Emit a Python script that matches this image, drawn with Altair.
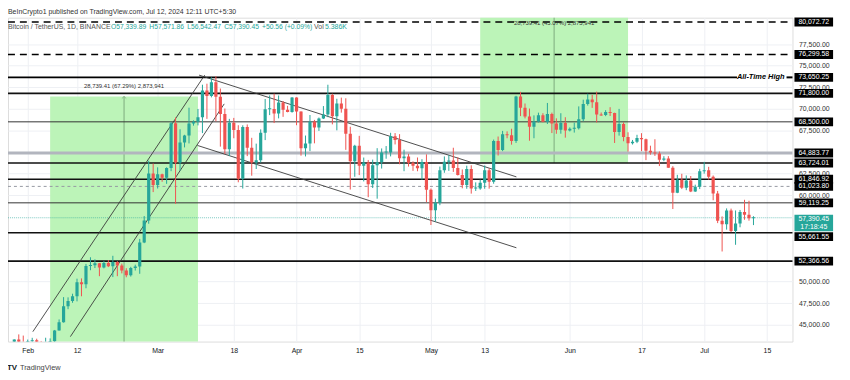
import altair as alt
import pandas as pd

# ---------------- data ----------------
BASE_DATE = "2024-02-01"
FIRST_CANDLE = "2024-01-29"

OPEN = [
    42031, 43300, 42946,
    42582, 43082, 43200, 43011, 42583, 42658, 43084, 44341, 45288, 47132, 47751, 48299, 49917, 49699, 51795,
    51880, 52124, 51642, 52137, 51774, 52258, 51849, 51283, 50731, 51571, 51733, 54522, 57085, 62504,
    61198, 62440, 62029, 63168, 68330, 63802, 66106, 66925, 68300, 68498, 69020, 72123, 71482, 73083, 71397,
    69403, 65316, 68390, 67548, 61912, 67913, 65491, 63778, 64062, 67234, 69958, 69987, 69455, 70744, 69892, 69645,
    71333, 69702, 65446, 65980, 68508, 67837, 68896, 69360, 71620, 69146, 70631, 70006, 67117, 63924, 65739,
    63419, 63793, 61277, 63470, 63818, 64941, 64960, 66837, 66408, 64276, 64481, 63755, 63419, 63113, 63841,
    60636, 58254, 59123, 62889, 63891, 64031, 63162, 62334, 61187, 63049, 60792, 60793, 61448, 62901, 61552,
    66267, 65231, 67051, 66940, 66278, 71446, 70136, 69122, 67929, 68526, 69265, 68518, 69394, 68296, 67578, 68364,
    67491, 67706, 67751, 68804, 70567, 71082, 70757, 69342, 69305, 69648, 69512, 67321, 68243, 66756, 66012,
    66191, 66640, 66490, 65140, 64960, 64828, 64096, 64252, 63180, 60277, 61804, 60864, 61706, 60427, 60986,
    62772, 62899, 62135, 60208, 57050, 56628, 58231, 55857, 56714, 58051, 57725, 57339.89,
]
HIGH = [
    43305, 43882, 43745,
    43285, 43488, 43380, 43119, 43494, 43419, 44396, 45614, 48200, 48170, 48592, 50334, 50368, 52043, 52816,
    52572, 52160, 52369, 52488, 52985, 52371, 52080, 51548, 51706, 51958, 54938, 57588, 64000, 63676,
    63230, 62500, 63230, 68500, 69000, 67637, 67000, 70136, 68670, 69990, 72800, 72916, 73650, 73777, 72358,
    70043, 68845, 68957, 68106, 68100, 68199, 66650, 65976, 67624, 71150, 71561, 71769, 71552, 70913, 70355, 71366,
    71342, 69708, 66914, 69291, 68725, 69000, 70327, 72797, 71758, 71172, 71305, 71227, 67932, 65840, 66878,
    64365, 64084, 64125, 65450, 65419, 65695, 67233, 67200, 67075, 65275, 64789, 63923, 64370, 64174, 64735,
    60780, 59603, 63321, 64494, 64646, 65500, 64390, 62984, 63420, 63469, 61490, 61818, 63450, 63119, 66444,
    66800, 67451, 67400, 67700, 71515, 71979, 70623, 70041, 69250, 69562, 69500, 70687, 69566, 68906, 69500, 69036,
    67857, 68409, 70288, 71063, 71758, 71625, 71997, 69582, 69854, 70195, 69563, 69999, 68449, 67294, 66402,
    66998, 67188, 66556, 65738, 66482, 65067, 64521, 64524, 63369, 62362, 62480, 62293, 62227, 61224, 63058,
    63861, 63288, 62285, 60499, 57546, 58475, 58449, 58236, 58296, 59470, 59359, 57571.86,
]
LOW = [
    41804, 42683, 42276,
    41884, 42546, 42880, 42222, 42500, 42574, 42788, 44331, 45242, 46800, 47540, 47710, 48300, 49225, 51314,
    51566, 50625, 51530, 51677, 50521, 50625, 50952, 50500, 50582, 51280, 50902, 54450, 56700, 60364,
    60777, 61559, 61320, 62787, 59005, 62848, 65540, 66001, 68058, 68089, 67194, 68845, 71334, 68555, 65630,
    64780, 64545, 66600, 61500, 60775, 64529, 62260, 63038, 63790, 66385, 69280, 68360, 68903, 69077, 69602, 69562,
    68110, 64586, 64493, 65113, 66011, 67447, 68824, 69043, 68210, 67518, 69567, 65254, 60660, 62134, 62333,
    61600, 59768, 60833, 59600, 63090, 64227, 64500, 65884, 63589, 62783, 63322, 62824, 62781, 61795, 59191,
    56552, 56937, 58848, 62599, 62822, 62700, 62285, 60800, 60750, 60187, 60492, 60632, 60750, 60760, 61330,
    64600, 65106, 66600, 65857, 66060, 69162, 68900, 66312, 66600, 68426, 68456, 68250, 67200, 67117, 67128, 66670,
    67386, 67257, 67612, 68566, 70383, 70119, 68420, 69208, 69160, 69172, 66051, 66902, 66251, 65056, 65871,
    66034, 65104, 64066, 64693, 64559, 63379, 63943, 63179, 58402, 60239, 60712, 60585, 60361, 60383, 60712,
    62497, 61806, 59419, 56771, 53485, 56018, 55724, 54260, 56289, 57157, 57052, 56542.47,
]
CLOSE = [
    43300, 42946, 42582,
    43082, 43200, 43011, 42583, 42658, 43084, 44341, 45288, 47132, 47751, 48299, 49917, 49699, 51795, 51880,
    52124, 51642, 52137, 51774, 52258, 51849, 51283, 50731, 51571, 51733, 54522, 57085, 62504, 61198,
    62440, 62029, 63168, 68330, 63802, 66106, 66925, 68300, 68498, 69020, 72123, 71482, 73083, 71397, 69403,
    65316, 68390, 67548, 61912, 67913, 65491, 63778, 64062, 67234, 69958, 69987, 69455, 70744, 69892, 69645, 71333,
    69702, 65446, 65980, 68508, 67837, 68896, 69360, 71620, 69146, 70631, 70006, 67117, 63924, 65739, 63419,
    63793, 61277, 63470, 63818, 64941, 64960, 66837, 66408, 64276, 64481, 63755, 63419, 63113, 63841, 60636,
    58254, 59123, 62889, 63891, 64031, 63162, 62334, 61187, 63049, 60792, 60793, 61448, 62901, 61552, 66267,
    65231, 67051, 66940, 66278, 71446, 70136, 69122, 67929, 68526, 69265, 68518, 69394, 68296, 67578, 68364, 67491,
    67706, 67751, 68804, 70567, 71082, 70757, 69342, 69305, 69648, 69512, 67321, 68243, 66756, 66012, 66191,
    66640, 66490, 65140, 64960, 64828, 64096, 64252, 63180, 60277, 61804, 60864, 61706, 60427, 60986, 62772,
    62899, 62135, 60208, 57050, 56628, 58231, 55857, 56714, 58051, 57725, 57340, 57390.45,
]

LEVELS_DASHED = [80072.72, 76299.58]
LEVEL_ATH = [73650.25]
LEVELS_THICK = [71800.00, 63724.01, 61846.92, 52366.56]
LEVEL_SUPPORT = [55661.55]
LEVELS_THIN = [68500.00, 59119.25]
LEVEL_GRAY = [64883.77]
LEVEL_GRAY_DASHED = [61023.80]
LAST_PRICE = [57390.45]
COUNTDOWN = ["17:18:45"]
ATH_TEXT = ["All-Time High"]

PRICE_TICKS = [45000, 47500, 50000, 60000, 62500, 67500, 70000, 72500, 75000, 77500]
DATE_TICKS = ["2024-02-01", "2024-02-12", "2024-03-01", "2024-03-18", "2024-04-01", "2024-04-15",
              "2024-05-01", "2024-05-13", "2024-06-01", "2024-06-17", "2024-07-01", "2024-07-15"]
DATE_TICK_LABELS = ["Feb", "12", "Mar", "18", "Apr", "15", "May", "13", "Jun", "17", "Jul", "15"]

RANGE_STARTS = ["2024-02-06", "2024-05-12"]
RANGE_ENDS = ["2024-03-10", "2024-06-14"]
RANGE_BASES = [42709.8, 63724.01]
RANGE_MOVE = 28739.41
RANGE_LABELS = ["28,739.41 (67.29%) 2,873,941", "28,739.41 (45.07%) 2,873,941"]

CHANNEL_IDS = ["up_top", "up_top", "up_bot", "up_bot", "dn_top", "dn_top", "dn_bot", "dn_bot"]
CHANNEL_TIMES = ["2024-02-02 03:22", "2024-03-11 12:00", "2024-02-10 12:29", "2024-03-15 20:38",
                 "2024-03-10 06:00", "2024-05-20 01:55", "2024-03-09 21:36", "2024-05-20 01:55"]
CHANNEL_PRICES = [44197, 73909, 43623, 70582, 73909, 62127, 65764, 53914]

HEADER_TITLE = ["BeInCrypto1 published on TradingView.com, Jul 12, 2024 12:11 UTC+5:30"]
HEADER_SYMBOL = ["Bitcoin / TetherUS, 1D, BINANCE"]
HEADER_OHLC = ["O57,339.89\u2009 H57,571.86\u2009 L56,542.47\u2009 C57,390.45\u2009 +50.56 (+0.09%)"]
HEADER_VOL_LABEL = ["Vol"]
HEADER_VOL = ["5.386K"]
LOGO_MARK = ["TV"]
LOGO_TEXT = ["TradingView"]

# ---------------- styling ----------------
FONT = "Liberation Sans"
UP, DOWN = "#26a69a", "#ef5350"
GREEN_FILL = "#bcf4b8"
W, H = 792, 327
X_DOMAIN = [-3.3, 169.6]
Y_DOMAIN = [43050, 80563]

base = pd.Timestamp(BASE_DATE)
day = lambda s: (pd.Timestamp(s) - base) / pd.Timedelta(days=1)

cdf = pd.DataFrame({
    "day": [(d - base).days for d in pd.date_range(FIRST_CANDLE, periods=len(OPEN), freq="D")],
    "open": OPEN, "high": HIGH, "low": LOW, "close": CLOSE,
})

tick_days = [int(day(d)) for d in DATE_TICKS]
label_expr = "''"
for d, lab in reversed(list(zip(tick_days, DATE_TICK_LABELS))):
    label_expr = f"datum.value == {d} ? '{lab}' : ({label_expr})"

xs = alt.Scale(domain=X_DOMAIN, nice=False, zero=False)
ys = alt.Scale(domain=Y_DOMAIN, nice=False, zero=False)
xaxis = alt.Axis(values=tick_days, labelExpr=label_expr, title=None, domain=False, ticks=False,
                 labelPadding=5, labelFontSize=7, labelColor="#131722", labelFont=FONT,
                 labelOverlap=False, labelFlush=False, grid=True, gridColor="#eef0f4")
yaxis = alt.Axis(orient="right", values=PRICE_TICKS, format=",.2f", title=None, domain=False,
                 ticks=False, tickSize=0, labelPadding=6, labelFontSize=7, labelColor="#333333",
                 labelFont=FONT, labelOverlap=False, labelFlush=False, grid=True, gridColor="#eef0f4")


def X(f):
    return alt.X(f, type="quantitative", scale=xs, axis=xaxis)


def Y(f):
    return alt.Y(f, type="quantitative", scale=ys, axis=yaxis)


def hline(values, x2=W, **kw):
    return alt.Chart(pd.DataFrame({"v": values})).mark_rule(**kw).encode(
        y=Y("v"), x=alt.value(0), x2=alt.value(x2))


def text_at(values, x, y, **kw):
    return alt.Chart(pd.DataFrame({"t": values})).mark_text(font=FONT, **kw).encode(
        x=alt.value(x), y=alt.value(y), text="t:N")


# ---------------- range boxes ----------------
rdf = pd.DataFrame({
    "x0": [day(s) for s in RANGE_STARTS],
    "x1": [day(s) for s in RANGE_ENDS],
    "lo": RANGE_BASES,
    "label": RANGE_LABELS,
})
rdf["hi"] = rdf["lo"] + RANGE_MOVE
rdf["mid"] = (rdf["x0"] + rdf["x1"]) / 2

rects = alt.Chart(rdf).mark_rect(color=GREEN_FILL, clip=True).encode(
    x=X("x0"), x2="x1", y=Y("lo"), y2="hi")
midlines = alt.Chart(rdf).mark_rule(color="#7daa7d", strokeWidth=1, clip=True).encode(
    x=X("mid"), y=Y("lo"), y2="hi")
arrow = alt.Chart(rdf.iloc[[0]]).mark_point(
    shape="M-1,1L0,0L1,1", filled=False, size=20, color="#7daa7d", strokeWidth=1).encode(
    x=X("mid"), y=Y("hi"))
range_label1 = alt.Chart(rdf.iloc[[0]]).mark_text(
    font=FONT, fontSize=6, color="#333333", dy=-10).encode(x=X("mid"), y=Y("hi"), text="label:N")
range_label2 = alt.Chart(rdf.iloc[[1]]).mark_text(
    font=FONT, fontSize=6, color="#333333").encode(x=X("mid"), y=alt.value(5.5), text="label:N")

# ---------------- levels ----------------
levels = [
    hline(LEVELS_DASHED, color="#000000", strokeWidth=1.5, strokeDash=[7, 5]),
    hline(LEVEL_ATH, x2=736, color="#000000", strokeWidth=2),
    alt.Chart(pd.DataFrame({"v": LEVEL_ATH})).mark_rule(color="#000000", strokeWidth=2).encode(
        y=Y("v"), x=alt.value(786), x2=alt.value(W)),
    hline(LEVELS_THICK, color="#111111", strokeWidth=1.6),
    hline(LEVEL_SUPPORT, color="#111111", strokeWidth=1.6),
    hline(LEVELS_THIN, color="#333333", strokeWidth=1),
    hline(LEVEL_GRAY, color="#b2b5be", strokeWidth=3),
    hline(LEVEL_GRAY_DASHED, color="#9598a1", strokeWidth=1, strokeDash=[3, 3]),
    hline(LAST_PRICE, color=UP, strokeWidth=1, strokeDash=[1, 1], opacity=0.6),
]

# ---------------- channels ----------------
chdf = pd.DataFrame({"id": CHANNEL_IDS, "day": [day(t) for t in CHANNEL_TIMES], "price": CHANNEL_PRICES})
channels = alt.Chart(chdf).mark_line(color="#3a3a3a", strokeWidth=0.9, clip=True).encode(
    x=X("day"), y=Y("price"), detail="id:N")

# ---------------- candles ----------------
candle_color = alt.when(alt.datum.close >= alt.datum.open).then(alt.value(UP)).otherwise(alt.value(DOWN))
wicks = alt.Chart(cdf).mark_rule(strokeWidth=1, clip=True).encode(
    x=X("day"), y=Y("low"), y2="high", color=candle_color)
bodies = alt.Chart(cdf).transform_calculate(
    body_end="abs(datum.close - datum.open) < 115 ? datum.open + (datum.close >= datum.open ? 115 : -115) : datum.close"
).mark_bar(size=3.2, clip=True).encode(
    x=X("day"), y=Y("open"), y2="body_end:Q", color=candle_color)

# ---------------- ATH text ----------------
ath_text = alt.Chart(pd.DataFrame({"v": LEVEL_ATH, "t": ATH_TEXT})).mark_text(
    font=FONT, fontSize=7.5, fontStyle="italic", fontWeight="bold", align="right", baseline="middle",
    color="#000000").encode(y=Y("v"), x=alt.value(784), text="t:N")

# ---------------- price labels on the scale ----------------
box_levels = LEVELS_DASHED + LEVEL_ATH + LEVELS_THICK + LEVELS_THIN + LEVEL_GRAY + LEVEL_GRAY_DASHED
bdf = pd.DataFrame({"v": box_levels, "t": [f"{v:,.2f}" for v in box_levels]})
sdf = pd.DataFrame({"v": LEVEL_SUPPORT, "t": [f"{v:,.2f}" for v in LEVEL_SUPPORT]})
ldf = pd.DataFrame({"v": LAST_PRICE, "t": [f"{v:,.2f}" for v in LAST_PRICE], "c": COUNTDOWN})

boxes = alt.Chart(bdf).mark_rect(color="#000000", yOffset=-4.5, y2Offset=4.5).encode(
    y=Y("v"), y2="v", x=alt.value(794), x2=alt.value(833))
box_txt = alt.Chart(bdf).mark_text(font=FONT, fontSize=7, color="white", baseline="middle").encode(
    y=Y("v"), x=alt.value(813.5), text="t:N")
sbox = alt.Chart(sdf).mark_rect(color="#000000", yOffset=-0.5, y2Offset=8.5).encode(
    y=Y("v"), y2="v", x=alt.value(794), x2=alt.value(833))
sbox_txt = alt.Chart(sdf).mark_text(font=FONT, fontSize=7, color="white", baseline="middle", dy=4).encode(
    y=Y("v"), x=alt.value(813.5), text="t:N")
lbox = alt.Chart(ldf).mark_rect(color=UP, yOffset=-3, y2Offset=13.7).encode(
    y=Y("v"), y2="v", x=alt.value(794), x2=alt.value(833))
lbox_txt1 = alt.Chart(ldf).mark_text(font=FONT, fontSize=7, color="white", baseline="middle", dy=0.8).encode(
    y=Y("v"), x=alt.value(813.5), text="t:N")
lbox_txt2 = alt.Chart(ldf).mark_text(font=FONT, fontSize=7, color="white", baseline="middle", dy=9.4).encode(
    y=Y("v"), x=alt.value(813.5), text="c:N")

# ---------------- header / footer ----------------
texts = [
    text_at(HEADER_TITLE, 0, -4, fontSize=7, align="left", baseline="alphabetic", color="#333333"),
    text_at(HEADER_SYMBOL, 0, 9, fontSize=7, align="left", baseline="middle", color="#555555"),
    text_at(HEADER_OHLC, 104, 9, fontSize=6.8, align="left", baseline="middle", color=UP),
    text_at(HEADER_VOL_LABEL, 309, 9, fontSize=7, align="left", baseline="middle", color="#555555"),
    text_at(HEADER_VOL, 320, 9, fontSize=7, align="left", baseline="middle", color=UP),
    text_at(LOGO_MARK, -1, 354, fontSize=8, fontWeight="bold", align="left", baseline="middle", color="#131722"),
    text_at(LOGO_TEXT, 12, 354, fontSize=7.5, align="left", baseline="middle", color="#444444"),
]

chart = alt.layer(
    rects, midlines, arrow, *levels, channels, wicks, bodies, ath_text,
    boxes, box_txt, sbox, sbox_txt, lbox, lbox_txt1, lbox_txt2,
    range_label1, range_label2, *texts,
).properties(
    width=W, height=H,
    autosize=alt.AutoSizeParams(type="none"),
    padding={"left": 0, "top": 8, "right": 50, "bottom": 36},
    background="white",
).configure_view(stroke=None).configure(font=FONT)

chart.save("out.html", embed_options={"renderer": "svg", "actions": False})
